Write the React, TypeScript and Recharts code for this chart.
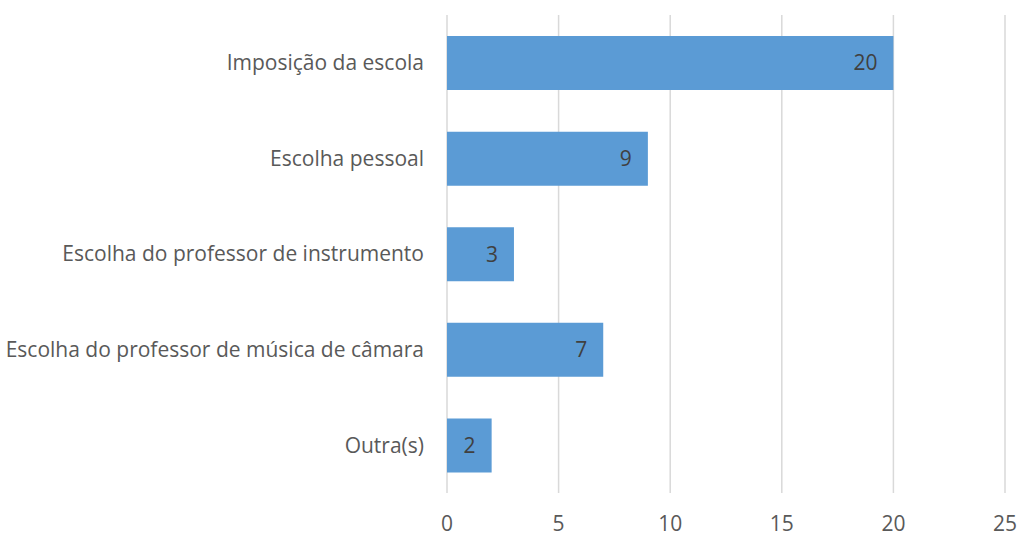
import React from 'react';
import { BarChart, Bar, XAxis, YAxis, CartesianGrid, LabelList } from 'recharts';

const categories = [
  'Imposição da escola',
  'Escolha pessoal',
  'Escolha do professor de instrumento',
  'Escolha do professor de música de câmara',
  'Outra(s)',
];
const counts = [20, 9, 3, 7, 2];
const xTicks = [0, 5, 10, 15, 20, 25];

const data = categories.map((name, i) => ({ name, value: counts[i] }));

const font = "'Open Sans', sans-serif";

const App: React.FC = () => {
  return (
    <div style={{ position: 'fixed', left: 0, top: 0, background: '#fff' }}>
      <BarChart
        width={1019}
        height={535}
        data={data}
        layout="vertical"
        margin={{ top: 15, right: 14, bottom: 0, left: 0 }}
        barCategoryGap="22%"
      >
        <CartesianGrid horizontal={false} stroke="#d9d9d9" strokeWidth={1.5} />
        <XAxis
          type="number"
          domain={[0, 25]}
          ticks={xTicks}
          axisLine={false}
          tickLine={false}
          tickMargin={17}
          height={42}
          tick={{ fontSize: 21, fill: '#595959', fontFamily: font }}
        />
        <YAxis
          type="category"
          dataKey="name"
          width={447}
          axisLine={false}
          tickLine={false}
          tickSize={0}
          tickMargin={23}
          tick={{ fontSize: 21, fill: '#595959', fontFamily: font }}
        />
        <Bar dataKey="value" fill="#5b9bd5" isAnimationActive={false}>
          <LabelList
            dataKey="value"
            position="insideRight"
            offset={16}
            style={{ fontSize: 21, fill: '#404040', fontFamily: font }}
          />
        </Bar>
      </BarChart>
    </div>
  );
};

export default App;
